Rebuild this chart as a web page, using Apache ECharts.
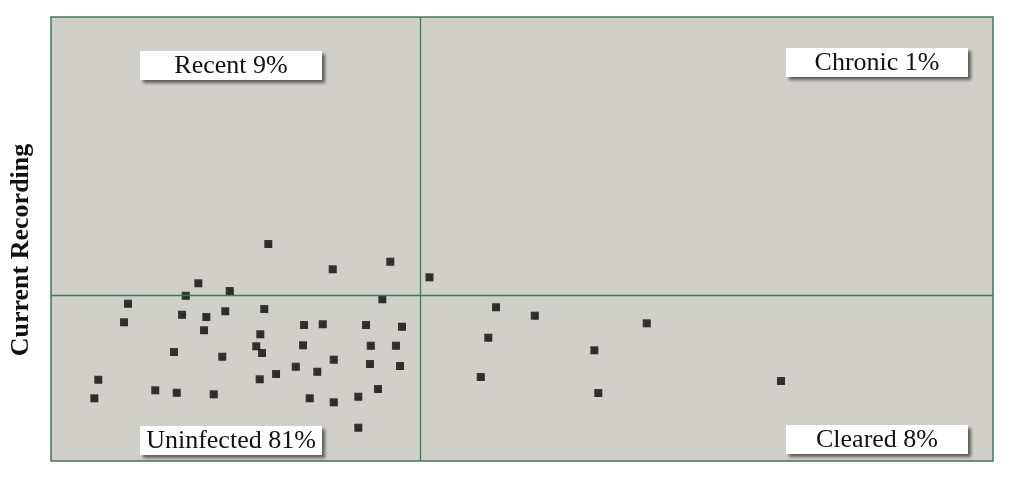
<!DOCTYPE html>
<html><head><meta charset="utf-8">
<script src="https://cdn.jsdelivr.net/npm/echarts@6/dist/echarts.min.js"></script>
<style>html,body{margin:0;padding:0;background:#fff}#c{width:1024px;height:489px}</style>
</head><body><div id="c"></div>
<script>
const xValues = [23.07,29.90,36.02,15.64,18.97,14.30,8.17,35.17,7.75,13.91,16.49,18.50,22.64,16.24,26.86,28.84,33.44,37.26,22.22,21.79,22.40,26.75,33.94,36.62,13.06,18.18,30.01,33.86,37.05,25.98,23.89,28.27,22.15,5.02,34.71,11.07,13.34,17.27,4.60,27.46,30.01,32.62,32.62,40.18,47.24,51.35,63.24,46.42,57.68,45.62,58.10,77.49];
const yValues = [48.87,43.18,44.89,40.02,38.29,37.23,35.43,36.42,31.24,32.95,32.43,33.72,34.23,29.44,30.63,30.79,30.63,30.25,28.54,25.83,24.32,26.06,25.97,25.97,24.55,23.49,22.82,21.85,21.40,21.24,19.59,20.11,18.40,18.31,16.22,15.92,15.38,15.02,14.12,14.12,13.22,14.48,7.50,41.37,34.62,32.73,31.01,27.77,24.93,18.92,15.32,18.02];
const xDivider = 39.17;
const yDivider = 37.39;
const quadrantLabels = ['Recent 9%','Chronic 1%','Uninfected 81%','Cleared 8%'];
const yTitle = 'Current Recording';

const GREEN = '#3f7a55';
const chart = echarts.init(document.getElementById('c'), null, {renderer:'canvas'});
const serif = '"Liberation Serif","DejaVu Serif",serif';
function box(text, x, y){
  return {type:'group', left:x, top:y, children:[
    {type:'rect', shape:{x:0,y:0,width:182,height:29},
     style:{fill:'#fff', shadowBlur:3, shadowOffsetX:3, shadowOffsetY:3, shadowColor:'rgba(0,0,0,0.55)'}},
    {type:'text', style:{text:text, x:91, y:15, align:'center', verticalAlign:'middle',
     font:'26px '+serif, fill:'#111'}}
  ]};
}
chart.setOption({
  backgroundColor:'#fff',
  animation:false,
  grid:{left:51, right:31, top:17, bottom:28, show:true, backgroundColor:'#d0cfca', borderColor:GREEN, borderWidth:1.5},
  xAxis:{type:'value', min:0, max:100, axisLine:{show:false}, axisTick:{show:false}, axisLabel:{show:false}, splitLine:{show:false}},
  yAxis:{type:'value', min:0, max:100, axisLine:{show:false}, axisTick:{show:false}, axisLabel:{show:false}, splitLine:{show:false}},
  series:[{
    type:'scatter', symbol:'rect', symbolSize:8,
    itemStyle:{color:'#111', shadowBlur:1, shadowColor:'rgba(0,0,0,0.3)'},
    data: xValues.map((x,i)=>[x,yValues[i]]),
    markLine:{silent:true, symbol:'none', label:{show:false},
      lineStyle:{color:GREEN, width:1.3, type:'solid'},
      data:[{xAxis:xDivider},{yAxis:yDivider}]}
  }],
  graphic:[
    {type:'text', x:21, y:250, rotation:Math.PI/2,
     style:{text:yTitle, align:'center', verticalAlign:'middle', font:'bold 26px '+serif, fill:'#111'}},
    box(quadrantLabels[0],140,51),
    box(quadrantLabels[1],786,48),
    box(quadrantLabels[2],140,426),
    box(quadrantLabels[3],786,425)
  ]
});
</script></body></html>
